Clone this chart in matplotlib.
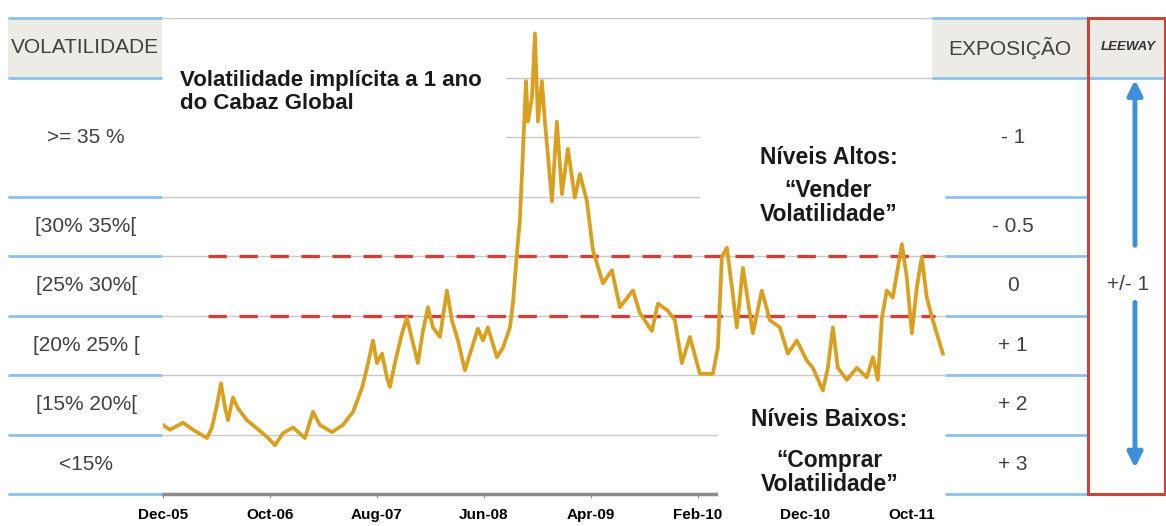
import matplotlib.pyplot as plt
from matplotlib.patches import Rectangle

plt.rcParams['font.family'] = ['Liberation Sans', 'DejaVu Sans']

# meses desde Dez-05 e volatilidade implícita a 1 ano (%)
meses = [0.0, 0.65, 1.87, 2.80, 4.11, 4.58, 5.05, 5.42, 5.79, 6.07,
         6.54, 7.01, 7.85, 8.79, 9.72, 10.47, 11.21, 12.15, 13.27, 14.02,
         14.67, 15.79, 16.82, 17.76, 18.6, 19.07, 19.63, 20.0, 20.47, 20.93,
         21.21, 21.68, 22.34, 22.80, 23.36, 23.83, 24.30, 24.77, 25.23, 25.89,
         26.54, 27.01, 27.57, 28.22, 28.88, 29.44, 29.91, 30.37, 31.21, 31.78,
         32.43, 32.71, 33.08, 33.36, 33.64, 33.93, 34.11, 34.49, 34.77, 35.05,
         35.42, 35.70, 36.36, 36.82, 37.29, 37.85, 38.50, 38.97, 39.63, 40.19,
         41.12, 41.96, 42.71, 43.93, 44.58, 45.70, 46.26, 47.20, 47.85, 48.50,
         49.25, 50.19, 51.40, 51.87, 52.24, 52.71, 53.18, 53.64, 54.21, 55.14,
         55.98, 56.73, 57.66, 58.41, 59.25, 60.19, 60.75, 61.68, 62.15, 62.62,
         63.08, 63.93, 64.86, 65.79, 66.36, 66.82, 67.20, 67.66, 68.22, 69.07,
         69.53, 70.0, 70.47, 70.93, 71.40, 71.96, 72.90]
vol = [15.8, 15.4, 16.0, 15.4, 14.7, 15.6, 17.5, 19.3, 17.3, 16.2,
       18.1, 17.2, 16.2, 15.5, 14.8, 14.1, 15.1, 15.6, 14.7, 16.9,
       15.8, 15.2, 15.8, 16.9, 18.9, 20.6, 22.9, 21.0, 21.8, 19.8,
       19.0, 21.0, 23.5, 24.8, 22.7, 21.0, 23.7, 25.7, 24.0, 23.2,
       27.1, 24.6, 22.9, 20.4, 22.3, 23.9, 22.9, 24.0, 21.5, 22.3,
       24.0, 26.0, 30.2, 33.0, 38.6, 44.7, 41.3, 43.3, 48.7, 41.3,
       44.7, 41.3, 34.6, 41.3, 35.2, 39.0, 34.9, 36.9, 34.6, 30.5,
       27.7, 28.8, 25.7, 27.1, 25.2, 23.7, 26.0, 25.4, 24.6, 21.0,
       23.2, 20.1, 20.1, 22.3, 29.9, 30.7, 27.4, 24.0, 29.0, 23.5,
       27.1, 24.6, 24.0, 21.8, 22.9, 21.2, 20.6, 18.7, 20.6, 24.0,
       20.6, 19.6, 20.6, 19.8, 21.5, 19.6, 24.8, 27.1, 26.5, 31.0,
       28.2, 23.5, 27.4, 29.9, 26.5, 24.6, 21.8]

tick_pos = [0, 10, 20, 30, 40, 50, 60, 70]
tick_labels = ['Dec-05', 'Oct-06', 'Aug-07', 'Jun-08', 'Apr-09', 'Feb-10', 'Dec-10', 'Oct-11']

limites = [10, 15, 20, 25, 30, 35, 45, 50]
faixas = ['<15%', '[15% 20%[', '[20% 25% [', '[25% 30%[', '[30% 35%[', '>= 35 %']
exposicao = ['+ 3', '+ 2', '+ 1', '0', '- 0.5', '- 1']
niveis_corte = [25, 30]

AZUL = '#8ec0ea'
CINZA_CAB = '#ecebe6'
TXT = '#404040'

W, H = 1166, 526
fig = plt.figure(figsize=(W / 100, H / 100), dpi=100)

# grafico principal
ax = fig.add_axes([163 / W, 32 / H, 782 / W, 476 / H])
ax.set_xlim(0, 73.1)
ax.set_ylim(10, 50)
for v in range(15, 55, 5):
    ax.axhline(v, color='#c8c8c8', lw=1, zorder=1)
for v in niveis_corte:
    ax.axhline(v, xmin=45 / 782, xmax=772 / 782, color='#d0403a', lw=2.4,
               linestyle=(0, (5.5, 3.8)), zorder=2.2)
ax.plot(meses, vol, color='#d9a020', lw=2.7, zorder=4)

# caixas brancas por tras dos textos
ax.add_patch(Rectangle((0, 39.2), 32.1, 8, facecolor='white', edgecolor='none', zorder=2))
ax.add_patch(Rectangle((50.2, 31.4), 25, 13, facecolor='white', edgecolor='none',
                       zorder=2, clip_on=False))
ax.add_patch(Rectangle((51.9, 9.45), 22, 8.85, facecolor='white', edgecolor='none',
                       zorder=3, clip_on=False))

ax.text(1.6, 45.6, 'Volatilidade implícita a 1 ano\ndo Cabaz Global', fontsize=16,
        fontweight='bold', va='top', ha='left', linespacing=1.1, color='#1a1a1a', zorder=5)
ax.text(62.2, 38.3, 'Níveis Altos:', fontsize=16.5, fontweight='bold', ha='center',
        va='center', color='#1a1a1a', zorder=5)
ax.text(62.2, 34.5, '“Vender\nVolatilidade”', fontsize=16.5, fontweight='bold', ha='center',
        va='center', linespacing=1.05, color='#1a1a1a', zorder=5)
ax.text(62.3, 16.3, 'Níveis Baixos:', fontsize=16.5, fontweight='bold', ha='center',
        va='center', color='#1a1a1a', zorder=5)
ax.text(62.3, 11.8, '“Comprar\nVolatilidade”', fontsize=16.5, fontweight='bold', ha='center',
        va='center', linespacing=1.05, color='#1a1a1a', zorder=5)

for s in ['top', 'left', 'right']:
    ax.spines[s].set_visible(False)
ax.spines['bottom'].set_color('#8c8c8c')
ax.spines['bottom'].set_linewidth(2.5)
ax.set_yticks([])
ax.set_xticks(tick_pos)
ax.set_xticklabels(tick_labels, fontsize=11, fontweight='bold')
ax.tick_params(axis='x', length=3, color='#8c8c8c', pad=7)
ax.patch.set_alpha(0)

# tabelas laterais
tab = fig.add_axes([0, 32 / H, 1, 476 / H])
tab.set_xlim(0, W)
tab.set_ylim(10, 50)
tab.axis('off')

tab.add_patch(Rectangle((8, 45), 154, 5, facecolor=CINZA_CAB, edgecolor='none'))
tab.add_patch(Rectangle((932, 45), 155, 5, facecolor=CINZA_CAB, edgecolor='none'))
tab.add_patch(Rectangle((1090, 45), 76, 5, facecolor=CINZA_CAB, edgecolor='none'))

for v in limites:
    tab.plot([8, 162], [v, v], color=AZUL, lw=2, solid_capstyle='butt', clip_on=False)
    if v >= 45:
        tab.plot([932, 1166], [v, v], color=AZUL, lw=2, solid_capstyle='butt', clip_on=False)
    else:
        tab.plot([945, 1087], [v, v], color=AZUL, lw=2, solid_capstyle='butt', clip_on=False)

meios = [(a + b) / 2 for a, b in zip(limites[:-2], limites[1:-1])]
for y, f, e in zip(meios, faixas, exposicao):
    tab.text(86, y, f, fontsize=15, color=TXT, ha='center', va='center')
    tab.text(1013, y, e, fontsize=15, color=TXT, ha='center', va='center')

tab.text(85, 47.5, 'VOLATILIDADE', fontsize=15, color=TXT, ha='center', va='center')
tab.text(1010, 47.5, 'EXPOSIÇÃO', fontsize=15, color=TXT, ha='center', va='center')
tab.text(1128, 47.6, 'LEEWAY', fontsize=9.5, color='#333333', fontweight='bold',
         fontstyle='italic', ha='center', va='center')

tab.add_patch(Rectangle((1088, 10), 77, 40, facecolor='none', edgecolor='#c8453c',
                        lw=2.2, clip_on=False, zorder=5))

seta = dict(arrowstyle='-|>', color='#3d8fdc', lw=3.5, mutation_scale=22,
            shrinkA=0, shrinkB=0)
tab.annotate('', xy=(1135, 44.8), xytext=(1135, 30.9), arrowprops=seta)
tab.annotate('', xy=(1135, 12.2), xytext=(1135, 26.1), arrowprops=seta)
tab.text(1128, 27.6, '+/- 1', fontsize=15, color=TXT, ha='center', va='center')

fig.savefig('out.png', dpi=100, facecolor='white')
